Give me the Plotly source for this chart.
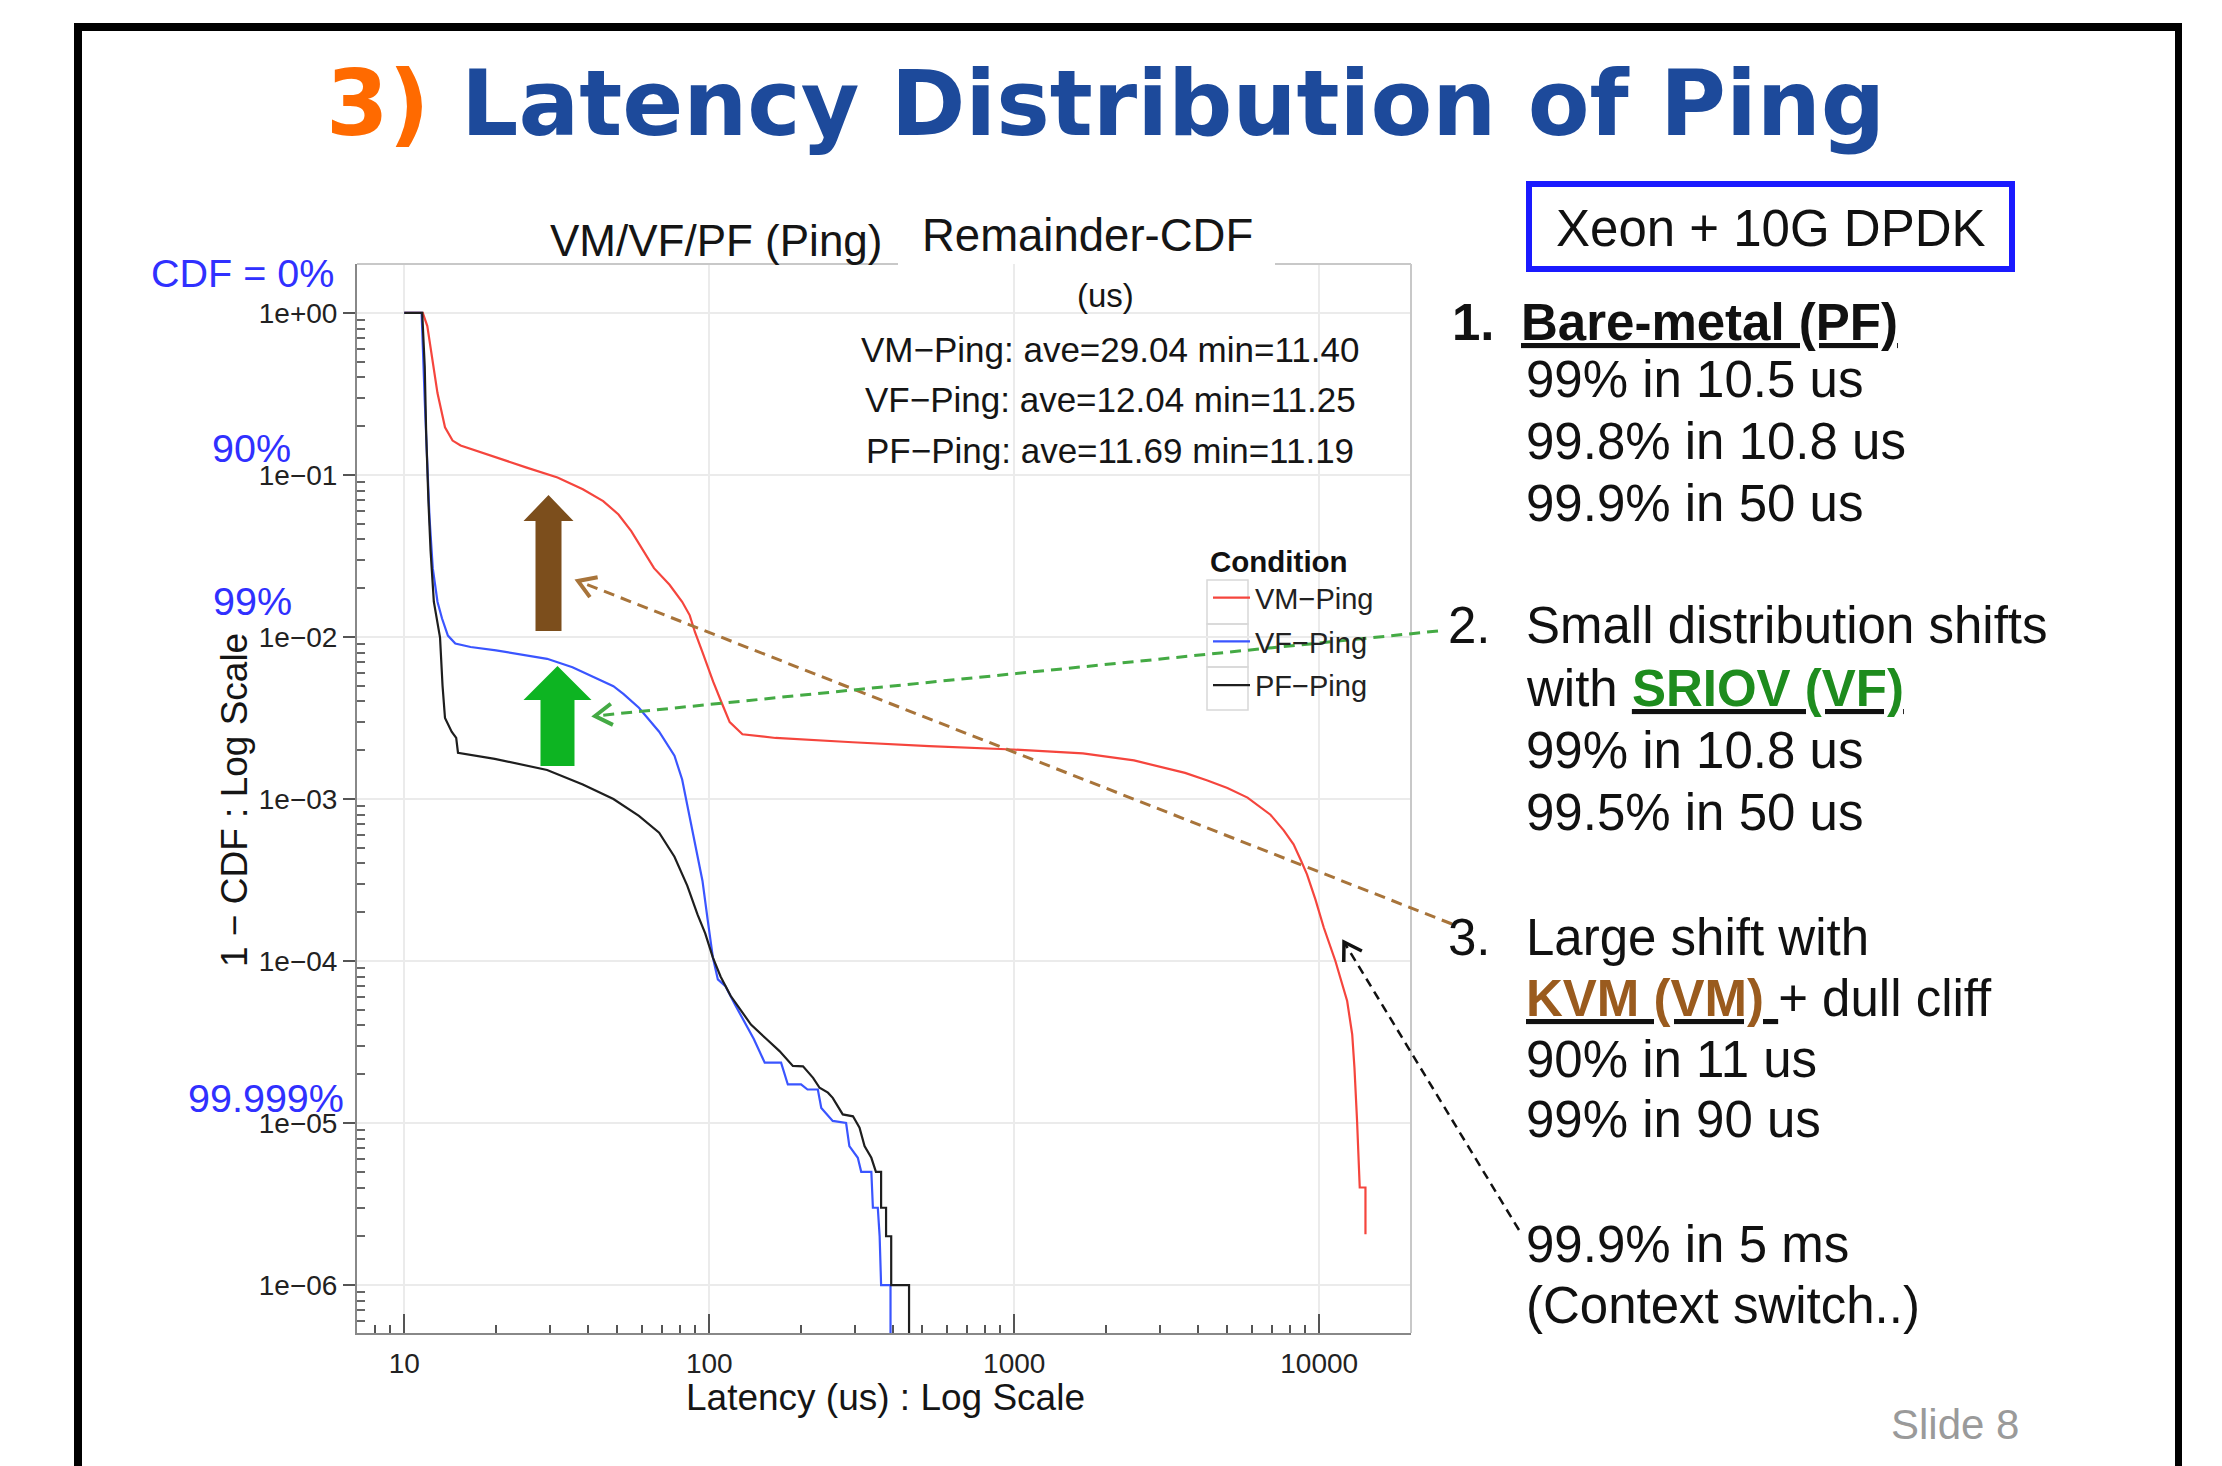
import plotly.graph_objects as go
import numpy as np

# ---------------- data ----------------
vm_x = [10, 11.5, 11.9, 12.4, 12.85, 13.6, 14.4, 15.3, 20, 25.2, 31.8, 38.5, 44.9, 50.4, 55.5,
        61, 65.9, 74.1, 81.5, 86.3, 89.8, 95, 103, 110, 116.7, 128.5, 165, 295, 526, 988,
        1679, 2470, 3632, 4300, 5000, 5820, 6920, 7650, 8240, 8700, 9120, 9717, 10350, 11300,
        12000, 12350, 12830, 13050, 13310, 13480, 13580, 14180, 14180]
vm_y = [1, 1, 0.83, 0.51, 0.32, 0.197, 0.163, 0.152, 0.128, 0.111, 0.0965, 0.0816, 0.069, 0.057,
        0.045, 0.0338, 0.0266, 0.021, 0.0165, 0.0136, 0.0107, 0.00807, 0.0053, 0.0039, 0.00298,
        0.00251, 0.00238, 0.00224, 0.00212, 0.00202, 0.00191, 0.00173, 0.00145, 0.0013,
        0.00117, 0.00102, 0.0008, 0.00064, 0.000525, 0.00042, 0.000343, 0.00024, 0.000161,
        0.0001, 6.8e-5, 5.66e-5, 3.52e-5, 2.19e-5, 1.03e-5, 6.4e-6, 4e-6, 4e-6, 2.06e-6]

vf_x = [10, 11.4, 11.67, 11.9, 12.1, 12.4, 12.85, 13.3, 13.9, 14.7, 16.5, 20, 25.2, 29.4, 35.6,
        43.2, 48.5, 52.4, 58.8, 68.5, 76.9, 81.5, 84.7, 89.8, 95, 98.8, 102.8, 106.7, 113, 122,
        132, 140, 152, 172, 181, 200, 210, 227, 233, 254, 281, 288, 307, 315, 340, 344, 357,
        362, 366, 393, 393]
vf_y = [1, 1, 0.289, 0.111, 0.0544, 0.0266, 0.0165, 0.013, 0.0102, 0.0091, 0.00867, 0.00826,
        0.00769, 0.00733, 0.0065, 0.0055, 0.00497, 0.00444, 0.00366, 0.0026, 0.00185, 0.00132,
        0.00093, 0.00054, 0.000313, 0.00018, 0.000105, 7.7e-5, 6.98e-5, 5.3e-5, 4.04e-5, 3.3e-5,
        2.36e-5, 2.36e-5, 1.73e-5, 1.73e-5, 1.61e-5, 1.61e-5, 1.24e-5, 1.03e-5, 1e-5, 7.2e-6,
        6.1e-6, 5e-6, 5e-6, 3e-6, 3e-6, 2e-6, 1e-6, 1e-6, 1e-7]

pf_x = [10, 11.2, 11.45, 11.67, 11.8, 12.0, 12.2, 12.5, 13.1, 13.35, 13.6, 14.3, 14.8, 15.0,
        19.8, 29.4, 38.5, 48.5, 58.8, 68.5, 76.9, 84.7, 91.5, 97, 102.8, 109, 117.5, 127, 137,
        154, 170, 188, 203, 219, 230, 245, 254, 274, 296, 311, 323, 340, 352, 366, 366, 380,
        380, 395, 395, 452, 452]
pf_y = [1, 1, 1, 0.466, 0.179, 0.069, 0.0338, 0.0165, 0.0099, 0.005, 0.00316, 0.0026, 0.00238,
        0.00193, 0.00177, 0.00151, 0.00123, 0.001, 0.000787, 0.00062, 0.00044, 0.000292,
        0.000194, 0.000148, 0.000105, 8.0e-5, 6.1e-5, 4.96e-5, 4.05e-5, 3.3e-5, 2.78e-5,
        2.25e-5, 2.24e-5, 1.9e-5, 1.65e-5, 1.54e-5, 1.43e-5, 1.13e-5, 1.1e-5, 9.35e-6, 7.2e-6,
        6.1e-6, 5e-6, 5e-6, 3e-6, 3e-6, 2e-6, 2e-6, 1e-6, 1e-6, 1e-7]

series_names = ["VM\u2212Ping", "VF\u2212Ping", "PF\u2212Ping"]
series_colors = ["#F5453D", "#3A55FF", "#1E1E1E"]

x_tickvals = [10, 100, 1000, 10000]
x_ticktext = ["10", "100", "1000", "10000"]
x_midticks = [50, 500, 5000]
y_tickvals = [1, 1e-1, 1e-2, 1e-3, 1e-4, 1e-5, 1e-6]
y_ticktext = ["1e+00", "1e\u221201", "1e\u221202", "1e\u221203", "1e\u221204", "1e\u221205", "1e\u221206"]

stats_lines = ["VM\u2212Ping: ave=29.04 min=11.40",
               "VF\u2212Ping: ave=12.04 min=11.25",
               "PF\u2212Ping: ave=11.69 min=11.19"]

# ---------------- geometry helpers ----------------
W, H = 2222, 1466
OFF = 8  # page body margin of the html page
def px(x):
    return (x - OFF) / W
def py(y):
    return 1 - (y - OFF) / H

PL, PR, PT, PB = 357, 1411, 264, 1333
FONT = "Liberation Sans, Arial, Helvetica, sans-serif"

fig = go.Figure()
for xs, ys, nm, col in zip([vm_x, vf_x, pf_x], [vm_y, vf_y, pf_y], series_names, series_colors):
    fig.add_trace(go.Scatter(x=xs, y=ys, mode="lines", name=nm, legendgroup=nm,
                             line=dict(color=col, width=2.2)))

minor_x = [m * 10 ** k for k in range(0, 5) for m in range(2, 10)]
minor_y = [m * 10.0 ** k for k in range(-7, 1) for m in range(2, 10)]

fig.update_layout(
    width=W, height=H,
    margin=dict(l=0, r=0, t=0, b=0),
    paper_bgcolor="white", plot_bgcolor="white",
    font=dict(family=FONT, color="#222"),
    xaxis=dict(type="log", range=[0.845, 4.301], domain=[px(PL), px(PR)],
               tickvals=x_tickvals, ticktext=x_ticktext, ticks="inside", ticklen=19,
               tickwidth=2, tickcolor="#555", showline=True, linecolor="#888", linewidth=2,
               showgrid=True, gridcolor="#EBEBEB", gridwidth=1.5, zeroline=False,
               tickfont=dict(size=28, color="#222"), ticklabelstandoff=4,
               minor=dict(tickvals=minor_x, ticks="inside", ticklen=8, tickwidth=2,
                          tickcolor="#555", showgrid=False)),
    yaxis=dict(type="log", range=[-6.296, 0.302], domain=[py(PB), py(PT)],
               tickvals=y_tickvals, ticktext=y_ticktext, ticks="outside", ticklen=12,
               tickwidth=2, tickcolor="#555", showline=True, linecolor="#888", linewidth=2,
               showgrid=True, gridcolor="#EBEBEB", gridwidth=1.5, zeroline=False,
               tickfont=dict(size=28, color="#222"),
               minor=dict(tickvals=minor_y, ticks="inside", ticklen=8, tickwidth=2,
                          tickcolor="#666", showgrid=False)),
    legend=dict(x=px(1208), y=py(534), xanchor="left", yanchor="top",
                bgcolor="rgba(0,0,0,0)", font=dict(size=29, color="#222"),
                title=dict(text="<b>Condition</b>", font=dict(size=29.5, color="#111")),
                itemwidth=37, tracegroupgap=3),
    showlegend=True,
)

shapes = []
# slide frame (black)
shapes.append(dict(type="rect", xref="paper", yref="paper", x0=px(74), x1=px(2182), y0=py(23), y1=py(31),
                   fillcolor="black", line=dict(width=0)))
shapes.append(dict(type="rect", xref="paper", yref="paper", x0=px(74), x1=px(82), y0=py(23), y1=py(1480),
                   fillcolor="black", line=dict(width=0)))
shapes.append(dict(type="rect", xref="paper", yref="paper", x0=px(2175), x1=px(2182), y0=py(23), y1=py(1480),
                   fillcolor="black", line=dict(width=0)))
# plot frame top (interrupted by the "Remainder-CDF" label) and right side
shapes.append(dict(type="line", xref="paper", yref="paper", x0=px(PL), x1=px(898), y0=py(PT), y1=py(PT),
                   line=dict(color="#C8C8C8", width=2)))
shapes.append(dict(type="line", xref="paper", yref="paper", x0=px(1275), x1=px(PR), y0=py(PT), y1=py(PT),
                   line=dict(color="#C8C8C8", width=2)))
shapes.append(dict(type="line", xref="paper", yref="paper", x0=px(PR), x1=px(PR), y0=py(PT), y1=py(PB),
                   line=dict(color="#C8C8C8", width=2)))
# medium x ticks at 5 x 10^k and inner part of the major y ticks
for v in x_midticks:
    shapes.append(dict(type="line", xref="x", yref="paper", x0=np.log10(v), x1=np.log10(v),
                       y0=py(PB), y1=py(PB - 13), line=dict(color="#555", width=2)))
for v in y_tickvals:
    shapes.append(dict(type="line", xref="paper", yref="y", x0=px(PL), x1=px(PL + 12),
                       y0=np.log10(v), y1=np.log10(v), line=dict(color="#555", width=2)))
# blue box around "Xeon + 10G DPDK"
shapes.append(dict(type="rect", xref="paper", yref="paper", x0=px(1529), x1=px(2012), y0=py(184), y1=py(269),
                   line=dict(color="#1A1AFF", width=6), fillcolor="rgba(0,0,0,0)"))

def block_arrow(cx, shaft_half, head_half, tip_y, base_y, bottom_y, color):
    pts = [(cx - shaft_half, bottom_y), (cx - shaft_half, base_y), (cx - head_half, base_y),
           (cx, tip_y), (cx + head_half, base_y), (cx + shaft_half, base_y), (cx + shaft_half, bottom_y)]
    path = "M " + " L ".join(f"{px(a):.5f},{py(b):.5f}" for a, b in pts) + " Z"
    return dict(type="path", xref="paper", yref="paper", path=path, fillcolor=color,
                line=dict(width=0), layer="above")

shapes.append(block_arrow(548.5, 13, 25, 495, 521, 631, "#7C4E1C"))
shapes.append(block_arrow(557.5, 17, 34, 666, 700, 766, "#0DB422"))

def dashed_arrow(sx, sy, tx, ty, color, width, dash, head=20):
    out = [dict(type="line", xref="paper", yref="paper", x0=px(sx), y0=py(sy), x1=px(tx), y1=py(ty),
                line=dict(color=color, width=width, dash=dash), layer="above")]
    v = np.array([tx - sx, ty - sy], dtype=float)
    u = v / np.linalg.norm(v)
    pts = []
    for ang in (np.radians(32), -np.radians(32)):
        c, s = np.cos(ang), np.sin(ang)
        r = np.array([c * u[0] - s * u[1], s * u[0] + c * u[1]])
        pts.append((tx - head * r[0], ty - head * r[1]))
    path = (f"M {px(pts[0][0]):.5f},{py(pts[0][1]):.5f} L {px(tx):.5f},{py(ty):.5f} "
            f"L {px(pts[1][0]):.5f},{py(pts[1][1]):.5f}")
    out.append(dict(type="path", xref="paper", yref="paper", path=path,
                    line=dict(color=color, width=width + 1), layer="above"))
    return out

shapes += dashed_arrow(1452, 924, 578, 581, "#A8743A", 3, "11px,7px")
shapes += dashed_arrow(1438, 631, 595, 716, "#44AA44", 3, "11px,7px")
shapes += dashed_arrow(1519, 1230, 1344, 942, "#111111", 2.5, "9px,6px")

# legend key boxes
for y0, y1 in [(580, 624), (624, 667), (667, 710)]:
    shapes.append(dict(type="rect", xref="paper", yref="paper", x0=px(1207), x1=px(1248), y0=py(y0), y1=py(y1),
                       line=dict(color="#D8D8D8", width=1.5), fillcolor="rgba(0,0,0,0)", layer="below"))

fig.update_layout(shapes=shapes)

ann = []
def text(x, y, t, size, color="#111", xanchor="center", family=FONT, angle=0):
    ann.append(dict(x=px(x), y=py(y), xref="paper", yref="paper", text=t, showarrow=False,
                    xanchor=xanchor, yanchor="middle", textangle=angle,
                    font=dict(size=size, color=color, family=family)))

# slide title
text(1105, 104, "<b><span style='color:#FF6A00'>3)</span> Latency Distribution of Ping</b>", 90,
     color="#1D4A9B", family="DejaVu Sans, Verdana, sans-serif")
# plot titles
text(716, 240, "VM/VF/PF (Ping)", 44, color="#151515")
text(1087, 236, "Remainder-CDF", 45.5, color="#151515")
text(1105, 296, "(us)", 33, color="#151515")
for i, s in enumerate(stats_lines):
    text(1110, 349 + i * 50.5, s, 35, color="#151515")
# axis titles
text(885, 1397, "Latency (us) : Log Scale", 37, color="#151515")
text(234, 800, "1 \u2212 CDF : Log Scale", 37, color="#151515", angle=-90)
# blue percent labels
BLUE = "#3030FF"
text(242, 273, "CDF = 0%", 39.5, color=BLUE)
text(251, 448, "90%", 39.5, color=BLUE)
text(252, 601, "99%", 39.5, color=BLUE)
text(266, 1098, "99.999%", 39.5, color=BLUE)
# right-hand notes
text(1771, 229, "Xeon + 10G DPDK", 51, color="#111")
RS = 51
text(1450, 322, "<b>1.</b>", RS, xanchor="left")
text(1519, 322, "<b><u>Bare-metal (PF)</u></b>", RS, xanchor="left")
text(1524, 380, "99% in 10.5 us", RS, xanchor="left")
text(1524, 442, "99.8% in 10.8 us", RS, xanchor="left")
text(1524, 503, "99.9% in 50 us", RS, xanchor="left")
text(1446, 625, "2.", RS, xanchor="left")
text(1524, 625, "Small distribution shifts", RS, xanchor="left")
text(1524, 689, "with <b><u><span style='color:#1E8C1E'>SRIOV (VF)</span></u></b>", RS, xanchor="left")
text(1524, 750, "99% in 10.8 us", RS, xanchor="left")
text(1524, 812, "99.5% in 50 us", RS, xanchor="left")
text(1446, 937, "3.", RS, xanchor="left")
text(1524, 937, "Large shift with", RS, xanchor="left")
text(1524, 998, "<b><u><span style='color:#9A5B1E'>KVM (VM)\u00a0</span></u></b>+ dull cliff", RS, xanchor="left")
text(1524, 1059, "90% in 11 us", RS, xanchor="left")
text(1524, 1119, "99% in 90 us", RS, xanchor="left")
text(1524, 1244, "99.9% in 5 ms", RS, xanchor="left")
text(1524, 1305, "(Context switch..)", RS, xanchor="left")
text(1955, 1424, "Slide 8", 42, color="#9A9A9A")

fig.update_layout(annotations=ann)
fig.write_html("out.html")
